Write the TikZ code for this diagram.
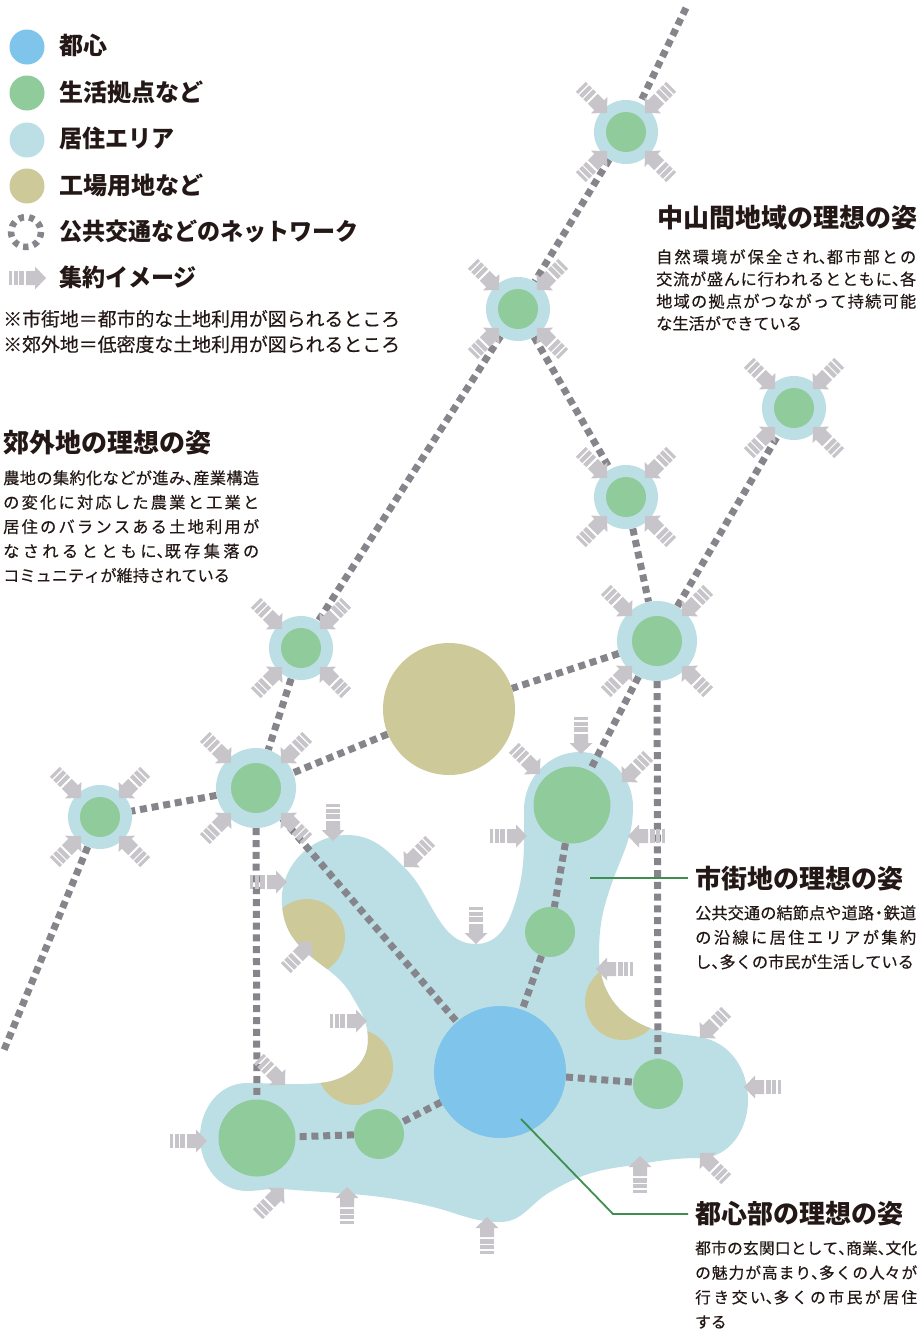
\documentclass[tikz,border=0pt]{standalone}
\usepackage{fontspec}
\usepackage{graphicx}
\setmainfont{Noto Sans CJK JP}
\newfontfamily\jpbody[FakeBold=0.3]{Noto Sans CJK JP}
\usetikzlibrary{calc}
\XeTeXlinebreaklocale "ja"
\XeTeXlinebreakskip=0pt plus 3pt minus 0.5pt
\tolerance=9999
\definecolor{inkc}{HTML}{231815}
\definecolor{resid}{HTML}{BCDFE5}
\definecolor{life}{HTML}{8FCB9B}
\definecolor{fact}{HTML}{CEC998}
\definecolor{core}{HTML}{7FC4EA}
\definecolor{netc}{HTML}{85858B}
\definecolor{arrc}{HTML}{C8C5CA}
\definecolor{leadc}{HTML}{3E8E4F}
\pgfdeclarelayer{back}\pgfdeclarelayer{mid}\pgfdeclarelayer{front}
\pgfsetlayers{back,mid,main,front}
\newcommand{\tn}{\makebox[0.5em][l]{、}}
\newcommand{\nk}{\makebox[0.6em][c]{・}}
\tikzset{
  disc/.style 2 args={circle,fill=#1,draw=none,inner sep=0pt,minimum size=#2},
  halo/.style={disc={resid}{#1}},
  livegreen/.style={disc={life}{#1}},
  netline/.style={draw=netc,line width=7pt,dash pattern=on 7pt off 4.8pt},
  leader/.style={draw=leadc,line width=1.8pt},
  legendtext/.style={anchor=base west,inner sep=0pt,text=inkc,font=\bfseries\fontsize{24}{24}\selectfont},
  notetext/.style={anchor=base west,inner sep=0pt,text=inkc,font=\jpbody\fontsize{18.9}{18.9}\selectfont},
  titletext/.style={anchor=base west,inner sep=0pt,text=inkc,font=\bfseries\fontsize{26}{26}\selectfont},
  bodytext/.style n args={3}{anchor=base west,inner sep=0pt,text=inkc,text width=#1,align=justify,font=\jpbody\fontsize{#3}{#2}\selectfont},
  gather/.pic={
    \fill[arrc] (0,0) -- (-11,11.5) -- (-11,7) -- (-20,7) -- (-20,-7) -- (-11,-7) -- (-11,-11.5) -- cycle;
    \fill[arrc] (-22.3,-7) rectangle (-26.7,7);
    \fill[arrc] (-28,-7) rectangle (-32.3,7);
    \fill[arrc] (-33.8,-7) rectangle (-37,7);
  }
}
\newcommand{\blobpath}{(347,835)
 to[out=0,in=135] (404,867)
 to[out=-45,in=120] (433,910)
 to[out=-60,in=180] (476,944)
 to[out=0,in=250] (512,912)
 to[out=70,in=270] (524,810)
 to[out=90,in=180] (580,752)
 to[out=0,in=90] (633,807)
 to[out=-90,in=70] (613,880)
 to[out=-110,in=90] (599,955)
 to[out=-90,in=160] (650,1028)
 to[out=-20,in=170] (700,1037)
 to[out=-10,in=90] (748,1100)
 to[out=-90,in=0] (700,1158)
 to[out=180,in=8] (620,1167)
 to[out=188,in=30] (550,1192)
 to[out=210,in=0] (500,1222)
 to[out=180,in=-14] (433,1207)
 to[out=166,in=-5] (283,1189)
 to[out=175,in=0] (247,1191)
 to[out=180,in=-90] (200,1137)
 to[out=90,in=180] (247,1083)
 to[out=0,in=185] (320,1083)
 to[out=5,in=-90] (368,1040)
 to[out=90,in=-60] (352,996)
 to[out=120,in=-42] (307,953)
 to[out=138,in=-85] (282,905)
 to[out=95,in=180] cycle}
\begin{document}
\begin{tikzpicture}[x=1pt,y=-1pt]
\useasboundingbox (0,0) rectangle (922,1331);
% ---------- residential blob with factory crescents
\begin{pgfonlayer}{back}
  \fill[white] (0,0) rectangle (922,1331);
  \fill[resid] \blobpath;
  \begin{scope}
    \clip \blobpath;
    \fill[fact] (307,937) circle (38);
    \fill[fact] (355,1067) circle (38);
    \fill[fact] (623,1002) circle (38);
  \end{scope}
\end{pgfonlayer}
% ---------- nodes
\node[halo=64pt] (A) at (626,132) {}; \node[livegreen=40pt] (Ag) at (626,132) {};
\node[halo=64pt] (B) at (518,309) {}; \node[livegreen=40pt] (Bg) at (518,309) {};
\node[halo=64pt] (F) at (626,497) {}; \node[livegreen=40pt] (Fg) at (626,497) {};
\node[halo=64pt] (H) at (794,408) {}; \node[livegreen=40pt] (Hg) at (794,408) {};
\node[halo=80pt] (G) at (657,641) {}; \node[livegreen=50pt] (Gg) at (657,641) {};
\node[halo=64pt] (C) at (301,648) {}; \node[livegreen=40pt] (Cg) at (301,648) {};
\node[halo=80pt] (D) at (256,788) {}; \node[livegreen=50pt] (Dg) at (256,788) {};
\node[halo=64pt] (E) at (100,817) {}; \node[livegreen=40pt] (Eg) at (100,817) {};
\node[disc={fact}{132pt}] (plant) at (449,709) {};
\node[livegreen=77pt] (M) at (572,805) {};
\node[livegreen=50pt] (Q) at (550,932) {};
\node[livegreen=50pt] (N) at (658,1084) {};
\node[livegreen=77pt] (P) at (257,1138) {};
\node[livegreen=50pt] (R) at (379,1134) {};
\node[disc={core}{132pt}] (core) at (500,1072) {};
\coordinate (topend) at (686,8);
\coordinate (lowend) at (4,1050);
% ---------- network
\begin{pgfonlayer}{mid}
  \draw[netline] (topend) -- (A);
  \draw[netline] (A) -- (B);
  \draw[netline] (B) -- (C);
  \draw[netline] (C) -- (D);
  \draw[netline] (D) -- (E);
  \draw[netline] (E) -- (lowend);
  \draw[netline] (B) -- (F);
  \draw[netline] (F) -- (G);
  \draw[netline] (G) -- (H);
  \draw[netline] (G) -- (plant);
  \draw[netline] (plant) -- (D);
  \draw[netline] (G) -- (M);
  \draw[netline] (G) -- (N);
  \draw[netline] (D) -- (P);
  \draw[netline] (D) -- (core);
  \draw[netline] (M) -- (Q);
  \draw[netline] (Q) -- (core);
  \draw[netline] (core) -- (N);
  \draw[netline] (core) -- (R);
  \draw[netline] (R) -- (P);
\end{pgfonlayer}
% ---------- gathering arrows
\begin{pgfonlayer}{front}
  \foreach \cx/\cy in {626/132,518/309,626/497,794/408,301/648,100/817}{
    \pic[rotate=-45] at (\cx-19,\cy-19) {gather};
    \pic[rotate=-135] at (\cx+19,\cy-19) {gather};
    \pic[rotate=45] at (\cx-19,\cy+19) {gather};
    \pic[rotate=135] at (\cx+19,\cy+19) {gather};
  }
  \foreach \cx/\cy in {657/641,256/788}{
    \pic[rotate=-45] at (\cx-25,\cy-25) {gather};
    \pic[rotate=-135] at (\cx+25,\cy-25) {gather};
    \pic[rotate=45] at (\cx-25,\cy+25) {gather};
    \pic[rotate=135] at (\cx+25,\cy+25) {gather};
  }
  \foreach \tx/\ty/\ang in {581/754/-90,540/774/-45,622/782/-135,527/836/0,628/836/180,
    333/841/-90,404/867/-135,476/944/-90,287/882/0,312/942/45,367/1021/0,
    285/1085/-45,207/1141/0,284/1188/45,347/1187/90,487/1217/90,
    596/969/180,700/1038/-135,744/1087/180,700/1153/135,640/1156/90}{
    \pic[rotate=\ang] at (\tx,\ty) {gather};
  }
  \coordinate (leadA) at (590,878);
  \coordinate (leadAend) at (688,878);
  \draw[leader] (leadA) -- (leadAend);
  \coordinate (leadB) at (521,1119);
  \coordinate (leadBbend) at (613,1214);
  \coordinate (leadBend) at (688,1214);
  \draw[leader] (leadB) -- (leadBbend) -- (leadBend);
\end{pgfonlayer}
% ---------- legend
\node[disc={core}{35pt}] (lgcore) at (27,47) {};
\node[disc={life}{35pt}] (lglife) at (27,93) {};
\node[disc={resid}{35pt}] (lgresid) at (27,140) {};
\node[disc={fact}{35pt}] (lgfact) at (27,186) {};
\draw[draw=netc,line width=6.5pt,dash pattern=on 5.4pt off 5.07pt] (26,232) circle (14.93);
\pic at (46,278) {gather};
\node[legendtext] (t1) at (59,54) {都心};
\node[legendtext] (t2) at (59,101) {生活拠点など};
\node[legendtext] (t3) at (59,147) {\scalebox{0.96}[1]{居住エリア}};
\node[legendtext] (t4) at (59,194) {工場用地など};
\node[legendtext] (t5) at (59,240) {\scalebox{0.96}[1]{公共交通などのネットワーク}};
\node[legendtext] (t6) at (59,286) {\scalebox{0.96}[1]{集約イメージ}};
\node[notetext] (n1) at (3,326) {※市街地＝都市的な土地利用が図られるところ};
\node[notetext] (n2) at (3,351.5) {※郊外地＝低密度な土地利用が図られるところ};
% ---------- captions
\node[titletext] (cap1) at (657,227) {中山間地域の理想の姿};
\node[bodytext={260pt}{22.2pt}{16.2}] (txt1) at (656,263) {自然環境が保全され\tn 都市部との\break 交流が盛んに行われるとともに\tn 各\break 地域の拠点がつながって持続可能\break な生活ができている};
\node[titletext] (cap2) at (3,452) {郊外地の理想の姿};
\node[bodytext={256pt}{24.4pt}{16.2}] (txt2) at (3,484) {農地の集約化などが進み\tn 産業構造\break の変化に対応した農業と工業と\break 居住のバランスある土地利用が\break なされるとともに\tn 既存集落の\break コミュニティが維持されている};
\node[titletext] (cap3) at (695,888) {市街地の理想の姿};
\node[bodytext={221pt}{24.5pt}{16.2}] (txt3) at (695,919) {公共交通の結節点や道路\nk 鉄道\break の沿線に居住エリアが集約\break し\tn 多くの市民が生活している};
\node[titletext] (cap4) at (695,1223) {都心部の理想の姿};
\node[bodytext={222pt}{24.6pt}{15.7}] (txt4) at (695,1254) {都市の玄関口として\tn 商業\tn 文化\break の魅力が高まり\tn 多くの人々が\break 行き交い\tn 多くの市民が居住\break する};
\end{tikzpicture}
\end{document}
